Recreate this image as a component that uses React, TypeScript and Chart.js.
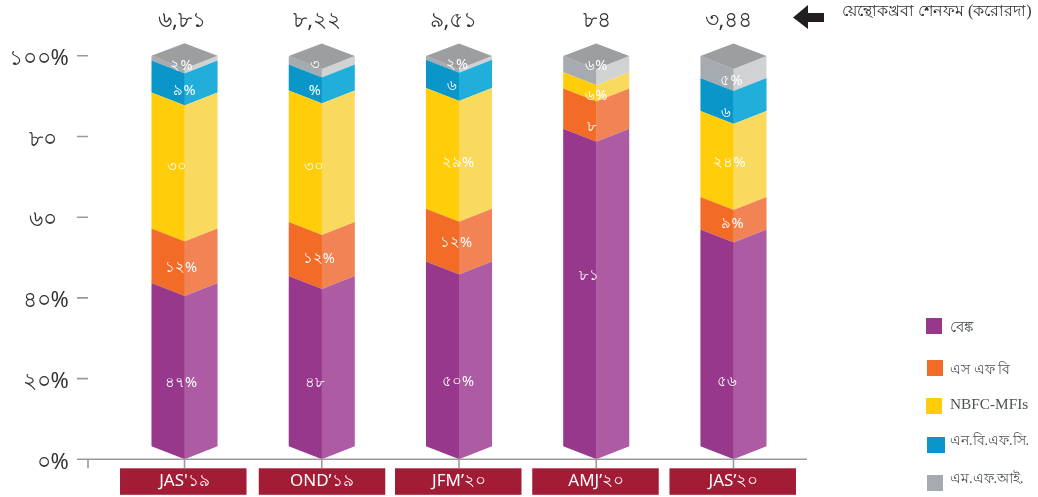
import React, { useEffect, useRef } from "react";
import { Chart, registerables } from "chart.js";

Chart.register(...registerables);

const categories = ["JAS'১৯", "OND’১৯", "JFM’২০", "AMJ’২০", "JAS’২০"];
const totals = ["৬,৮১", "৮,২২", "৯,৫১", "৮৪", "৩,৪৪"];
const yTickLabels = ["০%", "২০%", "৪০%", "৬০  ", "৮০  ", "১০০%"];
const totalsCaption = "য়েন্থোকখ্রবা শেনফম (করোরদা)";

const banks = [40.5, 42.2, 45.8, 78.7, 53.7];
const sfbs = [13.5, 13.4, 13.1, 10.0, 8.1];
const nbfcMfis = [33.7, 32.6, 29.9, 4.0, 21.3];
const nbfcs = [7.9, 6.4, 7.0, 0, 8.2];
const mfis = [1.2, 2.1, 0.9, 4.0, 5.4];

const bankLabels = ["৪৭%", "৪৮", "৫০%", "৮১", "৫৬"];
const sfbLabels = ["১২%", "১২%", "১২%", "৮", "৯%"];
const nbfcMfiLabels = ["৩০", "৩০", "২৯%", "৬%", "২৪%"];
const nbfcLabels = ["৯%", "%", "৬", "", "৬"];
const mfiLabels = ["২%", "৩", "২%", "৬%", "৫%"];

const seriesNames = ["বেঙ্ক", "এস এফ বি", "NBFC-MFIs", "এন.বি.এফ.সি.", "এম.এফ.আই."];
const seriesValues = [banks, sfbs, nbfcMfis, nbfcs, mfis];
const seriesLabels = [bankLabels, sfbLabels, nbfcMfiLabels, nbfcLabels, mfiLabels];

const leftColors = ["#97388c", "#f26b27", "#ffcd0a", "#0a96c8", "#a6abb1"];
const rightColors = ["#ad5ca3", "#f28354", "#f9da5e", "#21aedb", "#d1d2d3"];
const topColor = "#9d9ea0";

// Nudges of each printed value from the middle of its segment [dx, dy], px
const labelNudges = [
  [[-3.5, 5], [-7, 8.5], [-1, 15], [-7, -25], [-6.5, 31]],
  [[-3.5, -1], [-3, -3], [-3, -5], [-4, 5], [-1, -2]],
  [[-8, -7], [-8, -2], [-1, 2], [0, 2.5], [-4, -4]],
  [[0, 1], [-7, 0], [-7, -1], [0, 0], [-7, 5]],
  [[-3, -5], [-6.5, -8], [-2, -6], [0, -11], [-2, 1]],
];
const totalNudges = [-2.5, -4.5, -5.5, 1, -5];
const boxNudges = [0, 1.5, 0.5, 0.5, 0.5];
const legendSpots = [
  [926, 318, 16], [927, 360, 16], [926, 398, 16], [927, 437, 18], [927, 475, 16],
];
const legendTextY = [328, 370, 405, 441, 479];
const legendFontSizes = [15, 14, 15.3, 14, 14];

const DEPTH = 13;
const UI_FONT = "'Noto Sans', 'Open Sans', sans-serif";

const prismPlugin = {
  id: "prism",
  beforeDraw(chart: any) {
    const { ctx } = chart;
    const x = chart.scales.x;
    ctx.save();
    ctx.fillStyle = "#a21c35";
    categories.forEach((_, i) => {
      const cx = x.getPixelForValue(i);
      ctx.fillRect(cx - 64.5 + boxNudges[i], 468.3, 126.5, 26.5);
    });
    ctx.restore();
    // the reference's axis figures sit a little below their ticks
    chart.scales.y.getLabelItems().forEach((item: any) => {
      if (!item.__moved) {
        item.options.translation = [item.options.translation[0], item.options.translation[1] + 3];
        item.__moved = true;
      }
    });
  },
  beforeDatasetDraw(chart: any, args: any) {
    const { ctx } = chart;
    const i = args.index;
    const meta = chart.getDatasetMeta(i);
    meta.data.forEach((bar: any) => {
      const half = bar.width / 2;
      const L = bar.x - half, R = bar.x + half, C = bar.x;
      const t = bar.y, b = bar.base;
      if (Math.abs(b - t) < 0.01) return;
      ctx.fillStyle = leftColors[i];
      ctx.beginPath();
      ctx.moveTo(L, t - DEPTH); ctx.lineTo(C + 0.4, t); ctx.lineTo(C + 0.4, b); ctx.lineTo(L, b - DEPTH);
      ctx.closePath(); ctx.fill();
      ctx.fillStyle = rightColors[i];
      ctx.beginPath();
      ctx.moveTo(C, t); ctx.lineTo(R, t - DEPTH); ctx.lineTo(R, b - DEPTH); ctx.lineTo(C, b);
      ctx.closePath(); ctx.fill();
    });
    return false;
  },
  afterDatasetsDraw(chart: any) {
    const { ctx } = chart;
    const x = chart.scales.x, y = chart.scales.y;
    ctx.save();

    // lid of each stack
    const lastMeta = chart.getDatasetMeta(seriesValues.length - 1);
    lastMeta.data.forEach((bar: any) => {
      const half = bar.width / 2;
      ctx.fillStyle = topColor;
      ctx.beginPath();
      ctx.moveTo(bar.x - half, bar.y - DEPTH);
      ctx.lineTo(bar.x, bar.y - 2 * DEPTH + 0.5);
      ctx.lineTo(bar.x + half, bar.y - DEPTH);
      ctx.lineTo(bar.x, bar.y);
      ctx.closePath(); ctx.fill();
    });

    // axis furniture
    ctx.strokeStyle = "#9a9a9a";
    ctx.lineWidth = 1.6;
    const zero = y.getPixelForValue(0);
    ctx.beginPath();
    ctx.moveTo(77, zero); ctx.lineTo(807, zero);
    ctx.moveTo(88, zero); ctx.lineTo(88, zero + 9);
    categories.forEach((_, i) => {
      const cx = x.getPixelForValue(i);
      ctx.moveTo(cx, zero); ctx.lineTo(cx, zero + 9);
    });
    [20, 40, 60, 80, 100].forEach((v) => {
      const py = y.getPixelForValue(v);
      ctx.moveTo(77, py); ctx.lineTo(88, py);
    });
    ctx.stroke();

    // printed values on the segments
    ctx.fillStyle = "#ffffff";
    ctx.font = `14.5px ${UI_FONT}`;
    ctx.textAlign = "center";
    ctx.textBaseline = "middle";
    seriesLabels.forEach((labels, s) => {
      const meta = chart.getDatasetMeta(s);
      labels.forEach((text, i) => {
        if (!text) return;
        const bar = meta.data[i];
        const [dx, dy] = labelNudges[s][i];
        ctx.fillText(text, bar.x + dx, (bar.y + bar.base) / 2 + dy);
      });
    });

    // stack totals
    ctx.fillStyle = "#333333";
    ctx.font = `22px ${UI_FONT}`;
    totals.forEach((text, i) => {
      ctx.fillText(text, x.getPixelForValue(i) + totalNudges[i], 21);
    });

    // arrow and caption
    ctx.fillStyle = "#231f20";
    ctx.beginPath();
    ctx.moveTo(793, 17.5); ctx.lineTo(808, 5); ctx.lineTo(808, 13); ctx.lineTo(824, 13);
    ctx.lineTo(824, 22); ctx.lineTo(808, 22); ctx.lineTo(808, 29);
    ctx.closePath(); ctx.fill();
    ctx.fillStyle = "#333333";
    ctx.font = "16px 'Liberation Serif', serif";
    ctx.textAlign = "left";
    ctx.fillText(totalsCaption, 842, 12);

    // legend
    seriesNames.forEach((name, s) => {
      const [lx, ly, lw] = legendSpots[s];
      ctx.fillStyle = leftColors[s];
      ctx.fillRect(lx, ly, lw, 16);
      ctx.fillStyle = "#4d5257";
      ctx.font = `${legendFontSizes[s]}px 'Liberation Serif', serif`;
      ctx.fillText(name, 950, legendTextY[s]);
    });
    ctx.restore();
  },
};

export default function App() {
  const ref = useRef<HTMLCanvasElement | null>(null);
  useEffect(() => {
    if (!ref.current) return;
    const chart = new Chart(ref.current, {
      type: "bar",
      data: {
        labels: categories,
        datasets: seriesNames.map((name, s) => ({
          label: name,
          data: seriesValues[s],
          backgroundColor: leftColors[s],
          categoryPercentage: 1,
          barPercentage: 0.4815,
        })),
      },
      plugins: [prismPlugin as any],
      options: {
        animation: false,
        responsive: false,
        layout: { padding: { top: 55.8, right: 235.9, left: 0, bottom: 0 } },
        plugins: { legend: { display: false }, tooltip: { enabled: false }, title: { display: false } },
        scales: {
          x: {
            stacked: true,
            afterFit: (s: any) => { s.height = 37.7; s.paddingLeft = 0; s.paddingRight = 0; },
            grid: { display: false, drawTicks: false },
            border: { display: false },
            ticks: {
              color: "#ffffff",
              padding: 12,
              maxRotation: 0,
              font: { family: UI_FONT, size: 17 },
            },
          },
          y: {
            stacked: true,
            min: 0,
            max: 100,
            afterFit: (s: any) => { s.width = 115.9; s.paddingTop = 0; s.paddingBottom = 0; },
            grid: { display: false, drawTicks: false },
            border: { display: false },
            ticks: {
              stepSize: 20,
              padding: 47,
              color: "#333333",
              font: { family: UI_FONT, size: 22 },
              callback: (v: any) => yTickLabels[Math.round(Number(v) / 20)],
            },
          },
        },
      },
    });
    return () => chart.destroy();
  }, []);
  return (
    <div style={{ position: "absolute", left: 0, top: 0, width: 1038, height: 497, background: "#fff" }}>
      <canvas ref={ref} width={1038} height={497} style={{ display: "block" }} />
    </div>
  );
}
